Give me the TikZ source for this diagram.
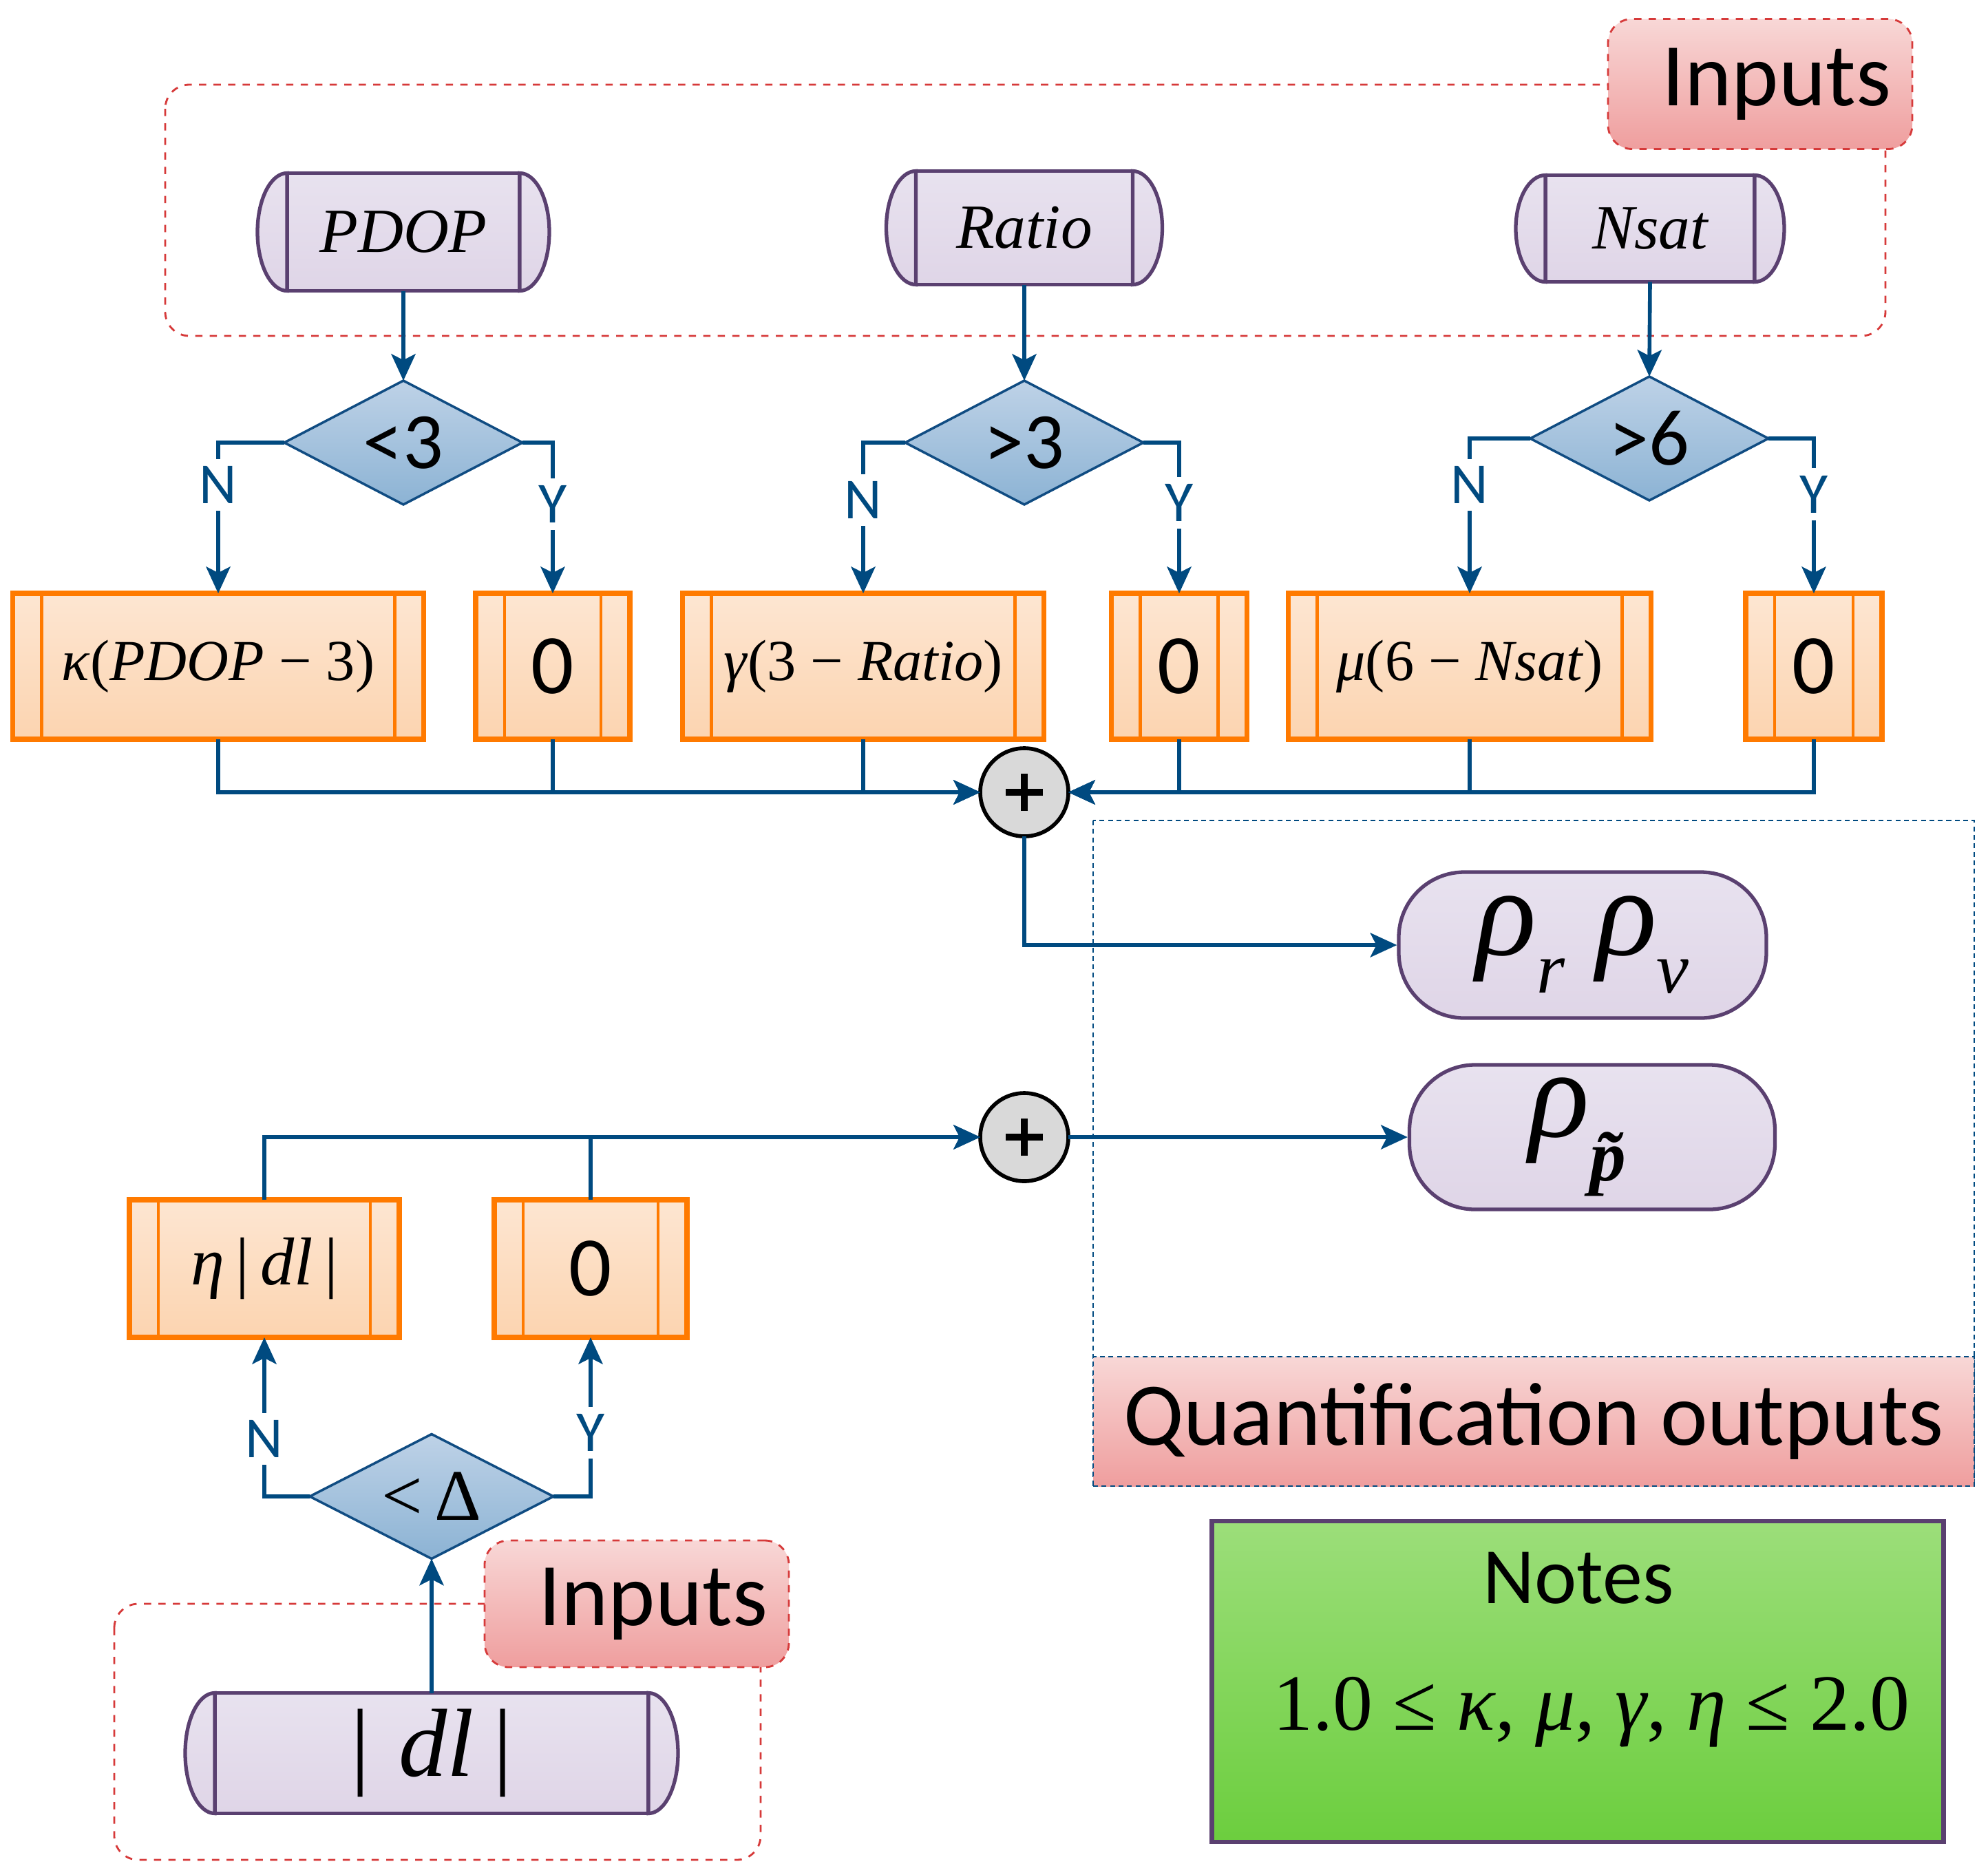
\documentclass[tikz,border=0pt]{standalone}
\usepackage{fontspec}
\setmainfont{Carlito}
\newfontfamily\tnr{Liberation Serif}
\usetikzlibrary{calc}
\usetikzlibrary{arrows.meta}
\usetikzlibrary{shapes.geometric}

\definecolor{flowblue}{RGB}{0,74,128}
\definecolor{termedge}{RGB}{90,64,112}
\definecolor{termtop}{RGB}{232,226,239}
\definecolor{termbot}{RGB}{223,213,231}
\definecolor{diatop}{RGB}{190,210,231}
\definecolor{diabot}{RGB}{140,179,212}
\definecolor{diaedge}{RGB}{16,76,130}
\definecolor{boxedge}{RGB}{255,122,0}
\definecolor{boxtop}{RGB}{253,230,210}
\definecolor{boxbot}{RGB}{252,212,176}
\definecolor{tagtop}{RGB}{248,215,214}
\definecolor{tagbot}{RGB}{239,158,158}
\definecolor{tagedge}{RGB}{214,58,58}
\definecolor{notetop}{RGB}{156,222,122}
\definecolor{notebot}{RGB}{108,206,62}
\definecolor{sumfill}{RGB}{217,217,217}

\newcommand{\fsz}[1]{\fontsize{#1}{#1}\selectfont}

\begin{document}
\begin{tikzpicture}[
  >={Stealth[length=11pt,width=10pt,inset=2.5pt]},
  flow/.style={flowblue, line width=1.6pt},
  term/.style={draw=termedge, line width=1.5pt, top color=termtop, bottom color=termbot, inner sep=0pt, outer sep=0pt},
  cond/.style={diamond, aspect=2, draw=diaedge, line width=1pt, top color=diatop, bottom color=diabot, inner sep=0pt, outer sep=0pt, minimum width=3.46cm, minimum height=1.8cm, font=\fsz{33}},
  proc/.style={draw=boxedge, line width=2.2pt, top color=boxtop, bottom color=boxbot, minimum height=2.12cm, inner sep=0pt, outer sep=0pt},
  yn/.style={font=\fsz{24}, fill=white, inner sep=3pt},
  tag/.style={draw=tagedge, dashed, line width=0.8pt, rounded corners=0.35cm, top color=tagtop, bottom color=tagbot, font=\fsz{37}, minimum width=4.42cm},
  frame/.style={tagedge, dashed, line width=0.8pt, rounded corners=0.35cm},
  summer/.style={circle, draw=black, line width=1.6pt, fill=sumfill, minimum size=1.28cm, outer sep=0pt,
    path picture={\draw[line width=3pt] ($(path picture bounding box.center)+(-0.27,0)$) -- ++(0.54,0) ($(path picture bounding box.center)+(0,-0.27)$) -- ++(0,0.54);}},
  ]
\useasboundingbox (0,0) rectangle (28.88,-27.24);

\draw[frame] (2.40,-1.23) rectangle (27.39,-4.88);
\node[tag, minimum height=1.89cm] (inA) at (25.57,-1.22) {\hspace*{0.48cm}Inputs};
\draw[flowblue, dash pattern=on 2pt off 1.5pt, line width=0.7pt] (15.88,-11.92) rectangle (28.68,-21.59);
\node[draw=flowblue, dash pattern=on 2pt off 1.5pt, line width=0.7pt, top color=tagtop, bottom color=tagbot, minimum width=12.8cm, minimum height=1.88cm, font=\fsz{37}] (qout) at (22.28,-20.65) {Quantification outputs};
\draw[frame] (1.66,-23.30) rectangle (11.05,-27.02);
\node[tag, minimum height=1.84cm] (inB) at (9.25,-23.30) {\hspace*{0.48cm}Inputs};

\node[term, minimum width=3.38cm, minimum height=1.71cm, font=\tnr\itshape\fsz{26}] (pdop) at (5.86,-3.37) {PDOP};
\node[term, minimum width=3.15cm, minimum height=1.65cm, font=\tnr\itshape\fsz{26}] (ratio) at (14.88,-3.31) {Ratio};
\node[term, minimum width=3.04cm, minimum height=1.55cm, font=\tnr\itshape\fsz{26}] (nsat) at (23.97,-3.32) {Nsat};
\node[term, minimum width=6.30cm, minimum height=1.75cm, font=\tnr\itshape\fsz{40}] (dl) at (6.27,-25.47) {\textup{|}\hspace{0.3em}dl\hspace{0.2em}\textup{|}};
\foreach \t/\h in {pdop/0.855,ratio/0.825,nsat/0.775,dl/0.875}
  \draw[termedge, line width=1.5pt, top color=termtop, bottom color=termbot] (\t.north west) arc[start angle=90, end angle=270, x radius=0.43, y radius=\h] -- cycle (\t.south east) arc[start angle=-90, end angle=90, x radius=0.43, y radius=\h] -- cycle;

\node[cond] (c1) at (5.86,-6.43) {<3};
\node[cond] (c2) at (14.88,-6.43) {>3};
\node[cond] (c3) at (23.96,-6.37) {>6};
\node[cond, minimum width=3.54cm, minimum height=1.81cm, font=\tnr\fsz{30}] (c4) at (6.27,-21.74) {<\,Δ};

\node[proc, minimum width=5.97cm, font=\tnr\fsz{24}] (kap) at (3.17,-9.68) {\textit{κ}(\textit{PDOP} − 3)};
\node[proc, minimum width=2.24cm, font=\fsz{35}] (zA) at (8.03,-9.68) {0};
\node[proc, minimum width=5.25cm, font=\tnr\fsz{24}] (gam) at (12.54,-9.68) {\textit{γ}(3 − \textit{Ratio})};
\node[proc, minimum width=1.97cm, font=\fsz{35}] (zB) at (17.13,-9.68) {0};
\node[proc, minimum width=5.27cm, font=\tnr\fsz{24}] (mu) at (21.35,-9.68) {\textit{μ}(6 − \textit{Nsat})};
\node[proc, minimum width=1.98cm, font=\fsz{35}] (zC) at (26.35,-9.68) {0};
\node[proc, minimum width=3.92cm, minimum height=2.0cm, font=\tnr\fsz{28}] (eta) at (3.84,-18.43) {\textit{η}\,|\,\textit{dl}\,|};
\node[proc, minimum width=2.80cm, minimum height=2.0cm, font=\fsz{35}] (zD) at (8.58,-18.43) {0};
\foreach \b in {kap,zA,gam,zB,mu,zC,eta,zD}
  \draw[boxedge, line width=1.4pt] ([xshift=0.42cm]\b.north west) -- ([xshift=0.42cm]\b.south west) ([xshift=-0.42cm]\b.north east) -- ([xshift=-0.42cm]\b.south east);

\node[summer] (s1) at (14.88,-11.51) {};
\node[summer] (s2) at (14.88,-16.52) {};

\node[draw=termedge, line width=1.5pt, rounded corners=0.95cm, top color=termtop, bottom color=termbot, minimum width=5.34cm, minimum height=2.12cm, font=\tnr\fsz{52}] (rA) at (22.99,-13.73) {\textit{ρ}\raisebox{-0.3em}{\fsz{30}\textit{r}}\hspace{0.25em}\textit{ρ}\raisebox{-0.3em}{\fsz{30}\textit{v}}};
\node[draw=termedge, line width=1.5pt, rounded corners=0.95cm, top color=termtop, bottom color=termbot, minimum width=5.31cm, minimum height=2.10cm, font=\tnr\fsz{52}] (rB) at (23.13,-16.52) {\textit{ρ}\raisebox{-0.35em}{\fsz{30}\textbf{\textit{\~{p}}}}};

\node[draw=termedge, line width=1.8pt, top color=notetop, bottom color=notebot, minimum width=10.63cm, minimum height=4.66cm] (notes) at (22.92,-24.43) {};
\node[font=\fsz{33}] (ntitle) at (22.93,-22.93) {Notes};
\node[font=\tnr\fsz{33}] (nform) at (23.12,-24.87) {1.0 ≤ \textit{κ}, \textit{μ}, \textit{γ}, \textit{η} ≤ 2.0};

\draw[flow,->] (pdop.south) -- (c1.north);
\draw[flow,->] (ratio.south) -- (c2.north);
\draw[flow,->] (nsat.south) -- (c3.north);
\draw[flow,->] (c1.west) -| node[yn, pos=0.64] {N} (kap.north);
\draw[flow,->] (c1.east) -| node[yn, pos=0.705] {Y} (zA.north);
\draw[flow,->] (c2.west) -| node[yn, pos=0.69] {N} (gam.north);
\draw[flow,->] (c2.east) -| node[yn, pos=0.70] {Y} (zB.north);
\draw[flow,->] (c3.west) -| node[yn, pos=0.65] {N} (mu.north);
\draw[flow,->] (c3.east) -| node[yn, pos=0.68] {Y} (zC.north);
\foreach \b in {kap,zA,gam}
  \draw[flow,->] (\b.south) |- (s1.west);
\foreach \b in {zB,mu,zC}
  \draw[flow,->] (\b.south) |- (s1.east);
\draw[flow,->] (s1.south) |- (rA.west);
\draw[flow,->] (s2.east) -- (rB.west);
\foreach \b in {eta,zD}
  \draw[flow,->] (\b.north) |- (s2.west);
\draw[flow,->] (dl.north) -- (c4.south);
\draw[flow,->] (c4.west) -| node[yn, pos=0.68] {N} (eta.south);
\draw[flow,->] (c4.east) -| node[yn, pos=0.70] {Y} (zD.south);
\end{tikzpicture}
\end{document}
